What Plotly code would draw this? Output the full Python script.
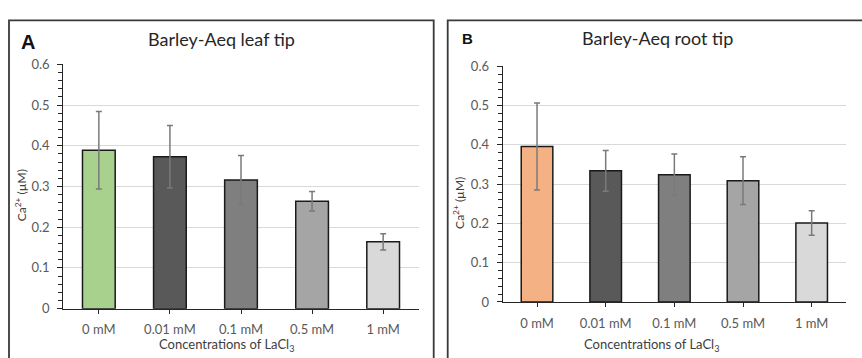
import plotly.graph_objects as go

W, H = 862, 358

categories = ["0 mM", "0.01 mM", "0.1 mM", "0.5 mM", "1 mM"]

# Leaf tip (panel A)
leaf_mean = [0.389, 0.373, 0.316, 0.264, 0.164]
leaf_err = [0.095, 0.077, 0.060, 0.024, 0.020]

# Root tip (panel B)
root_mean = [0.396, 0.334, 0.324, 0.309, 0.201]
root_err = [0.111, 0.052, 0.053, 0.061, 0.031]

leaf_colors = ["#a9d18e", "#595959", "#7f7f7f", "#a5a5a5", "#d9d9d9"]
root_colors = ["#f4b183", "#595959", "#7f7f7f", "#a5a5a5", "#d9d9d9"]

FONT = "Lato"
TICK_COL = "#595959"


def px(x):
    return x / W


def py(y):
    return 1 - y / H


fig = go.Figure()

for mean, err, cols, xa, ya in [
    (leaf_mean, leaf_err, leaf_colors, "x", "y"),
    (root_mean, root_err, root_colors, "x2", "y2"),
]:
    fig.add_trace(go.Bar(
        x=categories, y=mean, xaxis=xa, yaxis=ya,
        marker=dict(color=cols, line=dict(color="#1a1a1a", width=1.5)),
        error_y=dict(type="data", array=err, visible=True,
                     color="#7a7a7a", thickness=1.5, width=3),
        showlegend=False, hoverinfo="skip",
    ))

xcommon = dict(
    type="category", showgrid=False, zeroline=False,
    showline=True, linecolor="#262626", linewidth=1.2,
    ticks="outside", ticklen=4, tickcolor="#262626",
    ticklabelstandoff=5,
    tickfont=dict(family=FONT, size=13, color=TICK_COL),
    fixedrange=True,
)
ycommon = dict(
    range=[0, 0.6], dtick=0.1, tickformat="~g",
    showgrid=True, gridcolor="#d9d9d9", gridwidth=1,
    zeroline=False, showline=True, linecolor="#262626", linewidth=1.2,
    ticks="outside", ticklen=5, tickcolor="#262626",
    ticklabelstandoff=5,
    minor=dict(dtick=0.02, ticks="outside", ticklen=4,
               tickcolor="#262626", showgrid=False),
    tickfont=dict(family=FONT, size=13, color=TICK_COL),
    fixedrange=True,
)

fig.update_layout(
    width=W, height=H,
    margin=dict(l=0, r=0, t=0, b=0),
    paper_bgcolor="white", plot_bgcolor="white",
    bargap=0.54,
    xaxis=dict(domain=[px(63.3), px(418.7)], anchor="y", **xcommon),
    yaxis=dict(domain=[py(314.7), py(59)], anchor="x", **ycommon),
    xaxis2=dict(domain=[px(502.7), px(846)], anchor="y2", **xcommon),
    yaxis2=dict(domain=[py(307.7), py(61.1)], anchor="x2", **ycommon),
)

# Panel frames
for x0, x1 in [(9, 433.7), (447.7, 875)]:
    fig.add_shape(type="rect", xref="paper", yref="paper",
                  x0=px(x0), x1=px(x1), y0=py(375), y1=py(13),
                  line=dict(color="#3a3a3a", width=1.8),
                  fillcolor="rgba(0,0,0,0)", layer="above")

annos = [
    # panel letters
    dict(text="<b>A</b>", x=px(19), y=py(36), xanchor="left", yanchor="middle",
         font=dict(family="Liberation Sans", size=20, color="#111")),
    dict(text="<b>B</b>", x=px(459.5), y=py(31.5), xanchor="left", yanchor="middle",
         font=dict(family="Liberation Sans", size=15, color="#111")),
    # titles
    dict(text="Barley-Aeq leaf tip", x=px(221.5), y=py(32), xanchor="center",
         yanchor="middle", font=dict(family=FONT, size=18, color="#262626")),
    dict(text="Barley-Aeq root tip", x=px(657.7), y=py(31), xanchor="center",
         yanchor="middle", font=dict(family=FONT, size=18, color="#262626")),
    # y titles
    dict(text="Ca<sup>2+</sup> (µM)", x=px(21), y=py(196), textangle=-90,
         xanchor="center", yanchor="middle",
         font=dict(family=FONT, size=12, color="#404040")),
    dict(text="Ca<sup>2+</sup> (µM)", x=px(459), y=py(204), textangle=-90,
         xanchor="center", yanchor="middle",
         font=dict(family=FONT, size=12, color="#404040")),
    # x titles
    dict(text="Concentrations of LaCl<sub>3</sub>", x=px(226), y=py(342),
         xanchor="center", yanchor="top", borderpad=0,
         font=dict(family=FONT, size=13, color="#404040")),
    dict(text="Concentrations of LaCl<sub>3</sub>", x=px(651), y=py(342),
         xanchor="center", yanchor="top", borderpad=0,
         font=dict(family=FONT, size=13, color="#404040")),
]
for a in annos:
    fig.add_annotation(xref="paper", yref="paper", showarrow=False, **a)

fig.write_html("out.html")
